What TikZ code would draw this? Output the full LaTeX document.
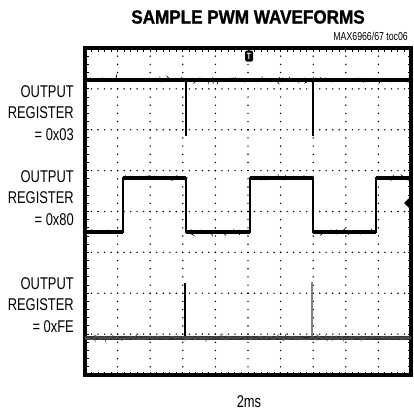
\documentclass[tikz,border=0pt]{standalone}
\usepackage{fontspec}
\setmainfont{Liberation Sans}[FakeStretch=0.76]
\newfontfamily\titlefont{Liberation Sans}[FakeStretch=0.9,FakeBold=1.2]
\usetikzlibrary{decorations.pathmorphing}
\begin{document}
\begin{tikzpicture}[x=1pt,y=-1pt,
    trace/.style={line width=4pt},
    noisy/.style={line width=1.2pt,decorate,decoration={random steps,segment length=1.2pt,amplitude=1.5pt}},
    edge/.style={line width=1.6pt},
    regtext/.style={anchor=east,align=right,inner sep=0pt,font=\fontsize{17}{21.5}\selectfont}]
    \useasboundingbox (0,0) rectangle (414,410);
    % grid dots
    \foreach \i in {1,...,9}
        \foreach \j in {1,...,39}
            \fill (85+32.6*\i,48+8.175*\j) circle (0.8pt);
    \foreach \k in {1,...,7}
        \foreach \j in {1,...,49}
            \fill (85+6.52*\j,48+40.875*\k) circle (0.8pt);
    % frame and ticks
    \foreach \j in {1,...,49} {
        \draw[line width=1pt] (85+6.52*\j,48) -- ++(0,3.5);
        \draw[line width=1pt] (85+6.52*\j,375) -- ++(0,-3.5);
    }
    \foreach \j in {1,...,39} {
        \draw[line width=1pt] (85,48+8.175*\j) -- ++(3.5,0);
        \draw[line width=1pt] (411,48+8.175*\j) -- ++(-3.5,0);
    }
    \draw[line width=3.2pt] (85,48) rectangle (411,375);

    % 0x03
    \draw[edge] (186,80) -- (186,136);
    \draw[edge] (313,80) -- (313,136);
    \draw[trace] (85,80) -- (411,80);
    \draw[noisy] (85,80) -- (411,80);

    % 0x80
    \draw[edge] (85,232) -- (123,232) -- (123,178) -- (186,178) -- (186,232) -- (250,232)
        -- (250,178) -- (313,178) -- (313,232) -- (376,232) -- (376,178) -- (411,178);
    \foreach \a/\b/\y in {85/123/232,123/186/178,186/250/232,250/313/178,313/376/232,376/411/178} {
        \draw[trace] (\a,\y) -- (\b,\y);
        \draw[noisy] (\a,\y) -- (\b,\y);
    }

    % 0xFE
    \draw[edge] (185,338) -- (185,283);
    \draw[edge,gray] (312,338) -- (312,282);
    \draw[trace,black!80] (85,338) -- (411,338);
    \draw[noisy,black!70] (85,338) -- (411,338);

    % markers
    \fill (245,47) -- (253,47) -- (249,51) -- cycle;
    \node[fill=black,text=white,rounded corners=1.5pt,inner sep=1pt,minimum width=8pt,minimum height=11pt,
        font=\fontsize{9}{9}\selectfont\bfseries] (trig) at (249,56) {T};
    \fill (404,203) -- (409,198) -- (409,208) -- cycle;

    % texts
    \node[font=\titlefont\bfseries\fontsize{19}{19}\selectfont] (title) at (248,17) {SAMPLE PWM WAVEFORMS};
    \node[anchor=east,inner sep=0pt,font=\fontsize{11.5}{11.5}\selectfont] (toc) at (408,36) {MAX6966/67 toc06};
    \node[regtext] (reg03) at (74,113) {OUTPUT\\REGISTER\\= 0x03};
    \node[regtext] (reg80) at (74,198) {OUTPUT\\REGISTER\\= 0x80};
    \node[regtext] (regfe) at (74,305) {OUTPUT\\REGISTER\\= 0xFE};
    \node[font=\fontsize{17}{17}\selectfont] (div) at (249,402) {2ms};
\end{tikzpicture}
\end{document}
